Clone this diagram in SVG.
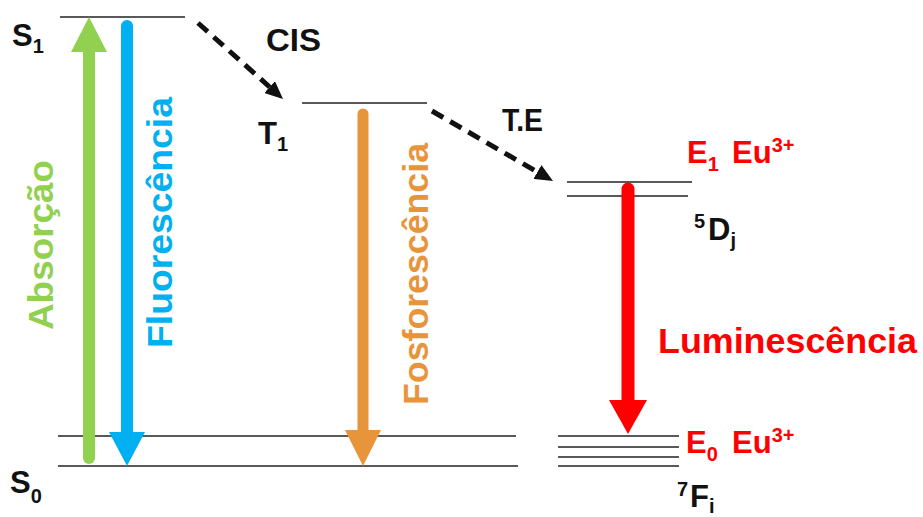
<svg xmlns="http://www.w3.org/2000/svg" width="923" height="517" viewBox="0 0 923 517">
<style>
text{font-family:"Liberation Sans",Arial,sans-serif;font-weight:bold}
.lvl{stroke:#222;stroke-width:1.5;fill:none}
.lab{font-size:31px;fill:#111}
.sub{font-size:20px}
.proc{font-size:35px}
.dash{stroke:#111;stroke-width:5;stroke-dasharray:13 8;fill:none}
</style>
<defs>
<marker id="ah" viewBox="0 0 18 16" refX="0" refY="8" markerWidth="18" markerHeight="16" markerUnits="userSpaceOnUse" orient="auto">
<path d="M0,0 L18,8 L0,16 z" fill="#111"/>
</marker>
</defs>
<g id="levels">
<g id="S1"><line class="lvl" x1="60" y1="17" x2="185" y2="17"/><text class="lab" x="12" y="46">S<tspan class="sub" dy="7">1</tspan></text></g>
<g id="T1"><line class="lvl" x1="302" y1="103" x2="427" y2="103"/><text class="lab" x="258" y="144">T<tspan class="sub" dy="7">1</tspan></text></g>
<g id="S0"><line class="lvl" x1="58" y1="436" x2="516" y2="436"/><line class="lvl" x1="58" y1="466" x2="518" y2="466"/><text class="lab" x="10" y="493">S<tspan class="sub" dy="10">0</tspan></text></g>
<g id="E1"><line class="lvl" x1="567" y1="182" x2="692" y2="182"/><line class="lvl" x1="567" y1="196" x2="688" y2="196"/>
<text class="lab" x="687" y="163" style="fill:#f00">E<tspan class="sub" dy="8">1</tspan><tspan x="732" y="163">Eu</tspan><tspan class="sub" dy="-11">3+</tspan></text>
<text class="lab" x="694" y="228"><tspan class="sub">5</tspan><tspan x="708" y="240">D</tspan><tspan class="sub" dy="7">j</tspan></text></g>
<g id="E0"><line class="lvl" x1="558" y1="436" x2="679" y2="436"/><line class="lvl" x1="558" y1="447" x2="679" y2="447"/><line class="lvl" x1="558" y1="457" x2="679" y2="457"/><line class="lvl" x1="558" y1="466" x2="679" y2="466"/>
<text class="lab" x="686" y="453" style="fill:#f00">E<tspan class="sub" dy="8">0</tspan><tspan x="732" y="453">Eu</tspan><tspan class="sub" dy="-11">3+</tspan></text>
<text class="lab" x="677" y="496"><tspan class="sub">7</tspan><tspan x="690" y="507">F</tspan><tspan class="sub" dy="6">i</tspan></text></g>
</g>
<g id="connectors">
<g id="absorcao"><line x1="89" y1="50" x2="89" y2="458" stroke="#92D050" stroke-width="12" stroke-linecap="round"/><polygon points="71,52 107,52 89,17" fill="#92D050"/></g>
<g id="fluorescencia"><line x1="127" y1="26" x2="127" y2="434" stroke="#00B0F0" stroke-width="12" stroke-linecap="round"/><polygon points="109,432 145,432 127,466" fill="#00B0F0"/></g>
<g id="fosforescencia"><line x1="363" y1="114" x2="363" y2="432" stroke="#E8943A" stroke-width="11" stroke-linecap="round"/><polygon points="345,430 381,430 363,466" fill="#E8943A"/></g>
<g id="luminescencia"><line x1="628" y1="189" x2="628" y2="402" stroke="#FF0000" stroke-width="13" stroke-linecap="round"/><polygon points="609,400 647,400 628,434" fill="#FF0000"/></g>
<line id="cis" class="dash" x1="198" y1="23" x2="269.6" y2="87" marker-end="url(#ah)"/>
<line id="te" class="dash" x1="432" y1="111" x2="537.4" y2="172" marker-end="url(#ah)"/>
</g>
<g id="labels">
<text class="lab" x="266" y="51" textLength="55" lengthAdjust="spacingAndGlyphs">CIS</text>
<text class="lab" x="502" y="131" textLength="41" lengthAdjust="spacingAndGlyphs">T.E</text>
<text class="proc" x="658" y="353" fill="#FF0000" textLength="259" lengthAdjust="spacingAndGlyphs">Luminescência</text>
<text class="proc" transform="translate(53,330) rotate(-90)" fill="#92D050" textLength="170" lengthAdjust="spacingAndGlyphs">Absorção</text>
<text class="proc" transform="translate(172,348) rotate(-90)" fill="#00B0F0" textLength="251" lengthAdjust="spacingAndGlyphs">Fluorescência</text>
<text class="proc" transform="translate(428,405) rotate(-90)" fill="#E8943A" textLength="262" lengthAdjust="spacingAndGlyphs">Fosforescência</text>
</g>
</svg>
